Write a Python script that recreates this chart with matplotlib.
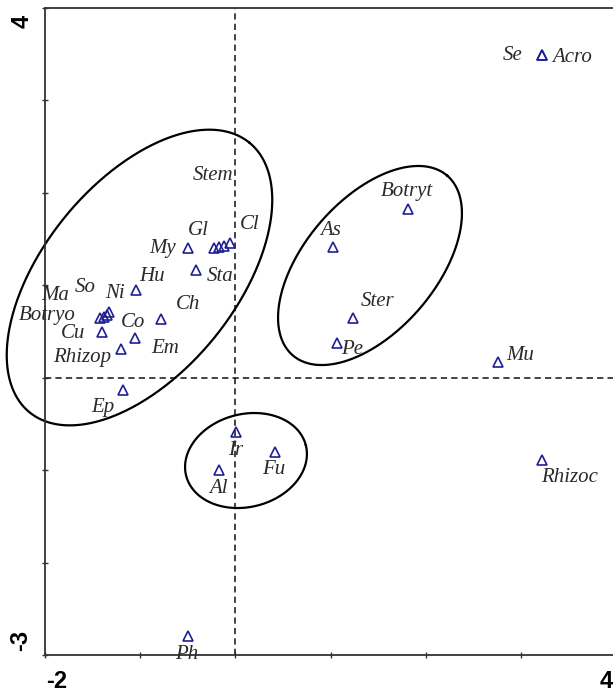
import numpy as np
import matplotlib
matplotlib.use("Agg")
import matplotlib.pyplot as plt

# ---- data (ordination scores) ----
names = ["Se", "Acro", "Mu", "Rhizoc", "Botryt", "As", "Ster", "Pe", "Ir", "Fu",
         "Al", "Ph", "Ep", "Rhizop", "Cu", "Co", "Ch", "Em", "Botryo", "Ma",
         "So", "Ni", "Hu", "My", "Gl", "Stem", "Cl", "Sta"]
xs = [3.22, 3.22, 2.76, 3.22, 1.81, 1.03, 1.24, 1.07, 0.01, 0.42,
      -0.17, -0.50, -1.18, -1.20, -1.40, -1.05, -0.78, -0.12, -1.42, -1.38,
      -1.35, -1.33, -1.04, -0.50, -0.22, -0.17, -0.06, -0.41]
ys = [3.49, 3.49, 0.17, -0.89, 1.83, 1.41, 0.65, 0.38, -0.59, -0.80,
      -1.00, -2.79, -0.13, 0.31, 0.49, 0.43, 0.64, 1.43, 0.65, 0.66,
      0.68, 0.71, 0.95, 1.40, 1.40, 1.41, 1.46, 1.17]

# label offsets (pixels, relative to the point) -- layout only
label_offsets = [(-29, 0), (30, -2), (22, 7), (28, -18), (-1, 17), (-3, 17), (24, 16), (15, -7),
                 (-1, -18), (-2, -18), (-1, -18), (-1, -19), (-20, -18), (-39, -8), (-29, -1),
                 (-2, 15), (27, 14), (-59, -103), (-53, 2), (-49, 21), (-22, 27), (6, 19),
                 (16, 13), (-25, 0), (-16, 18), (-6, 72), (20, 18), (24, -7)]

# group ellipses: centre x, centre y, semi-axis a, semi-axis b (x units), angle (deg)
ellipses = [(-1.007, 1.084, 1.828, 1.009, 50.8),
            (1.415, 1.214, 1.245, 0.691, 49.3),
            (0.112, -0.896, 0.649, 0.488, 14.3)]

xlim = (-2, 4)
ylim = (-3, 4)

W, H = 613, 695
fig = plt.figure(figsize=(W / 100, H / 100), dpi=100)
L, R, T, B = 45, 616, 8, 655
ax = fig.add_axes([L / W, (H - B) / H, (R - L) / W, (B - T) / H])
ax.set_xlim(*xlim)
ax.set_ylim(*ylim)

for s in ["left", "bottom", "top"]:
    ax.spines[s].set_linewidth(1.3)
    ax.spines[s].set_color("#333333")
ax.spines["right"].set_visible(False)

ax.set_xticks(np.arange(-2, 5, 1))
ax.set_yticks(np.arange(-3, 5, 1))
ax.tick_params(direction="inout", length=4.5, width=1.0, color="#333333",
               labelbottom=False, labelleft=False)

# dashed reference lines
plt.rcParams["lines.scale_dashes"] = False
ax.axvline(0, color="#222222", lw=1.2, dashes=(4.5, 3.0))
ax.axhline(0, color="#222222", lw=1.2, dashes=(4.5, 3.0))

# ellipses
ratio = ((R - L) / (xlim[1] - xlim[0])) / ((B - T) / (ylim[1] - ylim[0]))
t = np.linspace(0, 2 * np.pi, 500)
for cx, cy, a, b, ang in ellipses:
    th = np.deg2rad(ang)
    ux = a * np.cos(t) * np.cos(th) - b * np.sin(t) * np.sin(th)
    uy = a * np.cos(t) * np.sin(th) + b * np.sin(t) * np.cos(th)
    ax.plot(cx + ux, cy + uy * ratio, color="black", lw=1.6, clip_on=False)

# points
ax.plot(xs, ys, linestyle="none", marker="^", ms=6.5, mfc="none",
        mec="#1f1f96", mew=1.2, clip_on=False)

# labels
for n, x, y, (dx, dy) in zip(names, xs, ys, label_offsets):
    ax.annotate(n, (x, y), xytext=(dx, dy), textcoords="offset pixels",
                ha="center", va="center", fontsize=15,
                family="Liberation Serif", style="italic", color="#2a2a2a",
                annotation_clip=False)

# end tick labels
tkw = dict(family="Liberation Sans", fontsize=17, fontweight="bold", color="black",
           ha="center", va="center")
fig.text(22 / W, 1 - 21 / H, "4", rotation=90, **tkw)
fig.text(21 / W, 1 - 640 / H, "-3", rotation=90, **tkw)
fig.text(57 / W, 1 - 681 / H, "-2", **tkw)
fig.text(606 / W, 1 - 681 / H, "4", **tkw)

fig.savefig("out.png", dpi=100)
